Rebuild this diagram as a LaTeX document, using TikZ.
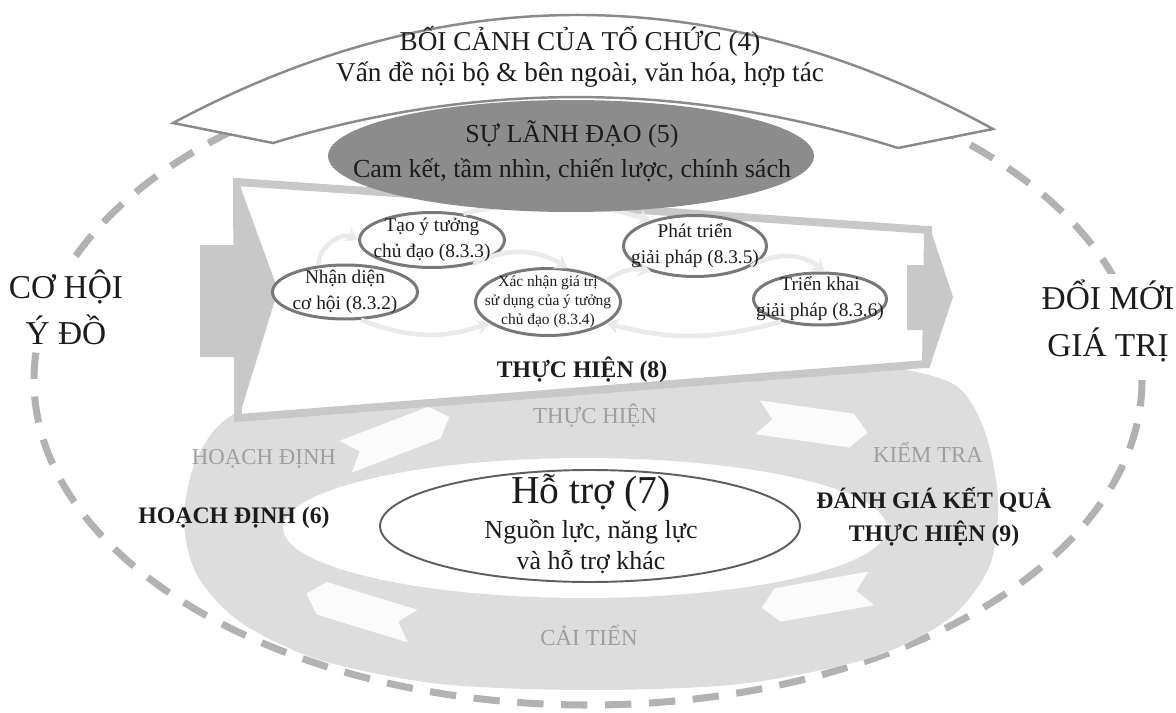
\documentclass[tikz,border=0pt]{standalone}
\usepackage{fontspec}
\setmainfont{Liberation Serif}
\usetikzlibrary{shapes.geometric,arrows.meta}
\definecolor{dashgray}{HTML}{B2B2B2}
\definecolor{ringgray}{HTML}{DDDDDD}
\definecolor{boxgray}{HTML}{C8C8C8}
\definecolor{edgegray}{HTML}{8A8A8A}
\definecolor{leadgray}{HTML}{8C8C8C}
\definecolor{supportgray}{HTML}{5E5E5E}
\definecolor{stagegray}{HTML}{787878}
\definecolor{swirlgray}{HTML}{EAEAEA}
\definecolor{labelgray}{HTML}{A29D9D}
\definecolor{ink}{HTML}{1C1C1C}
\begin{document}
\begin{tikzpicture}[x=0.02cm, y=-0.02cm,
    dashring/.style={draw=dashgray, line width=4pt, dash pattern=on 15pt off 10pt},
    ringband/.style={fill=ringgray, even odd rule},
    chevron/.style={fill=white, fill opacity=0.9},
    flowbox/.style={draw=boxgray, line width=4.5pt, fill=white, line join=miter},
    blockarrow/.style={fill=boxgray},
    banner/.style={draw=edgegray, line width=1.4pt, fill=white, line join=miter},
    leader/.style={ellipse, fill=leadgray, minimum width=9.72cm, minimum height=2.24cm},
    support/.style={ellipse, draw=supportgray, line width=1.1pt, fill=white,
        minimum width=8.4cm, minimum height=2.24cm},
    stage/.style={ellipse, draw=stagegray, line width=1.7pt, fill=white},
    swirl/.style={draw=swirlgray, line width=2.6pt, -{Stealth[length=7pt, width=9pt]}},
    caption/.style={align=center, inner sep=0pt, text=ink},
    phase/.style={text=labelgray, inner sep=0pt, font=\fontsize{13}{15}\selectfont},
    clause/.style={caption, font=\bfseries\fontsize{13.5}{19}\selectfont},
    outcome/.style={caption, fill=white, inner sep=3pt, font=\fontsize{19}{26}\selectfont}]
   \useasboundingbox (0,0) rectangle (1176,713);
   % outer dashed ellipse
   \draw[dashring] (588,380) ellipse [x radius=554, y radius=325];
   % PDCA band
   \fill[ringband] plot[smooth cycle] coordinates {(184,522) (194,465) (225,420) (300,385)
       (420,360) (590,348) (760,352) (880,365) (955,385) (985,432) (998,500) (990,565)
       (950,618) (870,658) (740,684) (590,690) (440,684) (320,660) (240,622) (197,575)}
       (585,528) ellipse [x radius=302, y radius=70];
   \foreach \cx/\cy/\ang in {397/437/21, 812/425/-8, 817/598/190, 360/610/163}
      \fill[chevron, shift={(\cx,\cy)}, rotate=\ang]
         (-55,-17) -- (40,-17) -- (56,0) -- (40,17) -- (-55,17) -- (-40,0) -- cycle;
   \node[phase] (plan) at (264,459) {HOẠCH ĐỊNH};
   \node[phase] (do) at (595,416) {THỰC HIỆN};
   \node[phase] (check) at (928,452) {KIỂM TRA};
   \node[phase] (act) at (589,635) {CẢI TIẾN};
   % operation box (8)
   \draw[flowbox] (237,182) -- (928,230) -- (926,364) -- (238,418) -- cycle;
   \fill[blockarrow] (200,245) -- (240,245) -- (240,186) -- (278,290) -- (240,414)
       -- (240,357) -- (200,357) -- cycle;
   \fill[blockarrow] (907,265) -- (930,265) -- (930,228) -- (953,297) -- (930,366)
       -- (930,330) -- (907,330) -- cycle;
   \node[stage, minimum width=2.9cm, minimum height=1.1cm] (tao) at (432,240) {};
   \node[stage, minimum width=2.9cm, minimum height=1.08cm] (nhan) at (345,292) {};
   \node[stage, minimum width=2.9cm, minimum height=1.34cm] (xac) at (548,302) {};
   \node[stage, minimum width=2.86cm, minimum height=1.22cm] (phat) at (695,246) {};
   \node[stage, minimum width=2.66cm, minimum height=1.04cm] (trien) at (820,299) {};
   \draw[swirl] (nhan.135) to[bend left=60] (tao.180);
   \draw[swirl] (tao.-30) to[bend left=30] (xac.60);
   \draw[swirl] (tao.40) to[bend left=15] (phat.150);
   \draw[swirl] (xac.20) to[bend left=25] (phat.-150);
   \draw[swirl] (phat.-20) to[bend left=35] (trien.80);
   \draw[swirl] (trien.-150) to[bend left=15] (xac.-20);
   \draw[swirl] (nhan.-60) to[bend right=20] (xac.-160);
   \node[caption, font=\fontsize{11}{14.8}\selectfont] (taotext) at (tao) {Tạo ý tưởng\\chủ đạo (8.3.3)};
   \node[caption, font=\fontsize{11}{14.8}\selectfont] (nhantext) at (nhan) {Nhận diện\\cơ hội (8.3.2)};
   \node[caption, font=\fontsize{8.8}{10.8}\selectfont] (xactext) at (xac) {Xác nhận giá trị\\sử dụng của ý tưởng\\chủ đạo (8.3.4)};
   \node[caption, font=\fontsize{11}{14.8}\selectfont] (phattext) at (phat) {Phát triển\\giải pháp (8.3.5)};
   \node[caption, font=\fontsize{11}{14.8}\selectfont] (trientext) at (trien) {Triển khai\\giải pháp (8.3.6)};
   \node[clause] (operation) at (582,370) {THỰC HIỆN (8)};
   % context banner (4) and leadership (5)
   \draw[banner] (173,123) .. controls (446,-23) and (720,-21) .. (993,129) -- (898,148)
       .. controls (689,82) and (481,80) .. (273,143) -- cycle;
   \node[caption, font=\fontsize{15.5}{17.6}\selectfont] (context) at (580,57)
       {BỐI CẢNH CỦA TỔ CHỨC (4)\\Vấn đề nội bộ \& bên ngoài, văn hóa, hợp tác};
   \node[leader] (lead) at (571,156) {};
   \node[caption, font=\fontsize{14.8}{20}\selectfont] (leadtext) at (572,151)
       {SỰ LÃNH ĐẠO (5)\\Cam kết, tầm nhìn, chiến lược, chính sách};
   % support (7)
   \node[support] (support) at (590,526) {};
   \node[caption, font=\fontsize{14.8}{18}\selectfont] (supporttext) at (591,524)
       {{\fontsize{22.5}{24}\selectfont Hỗ trợ (7)}\\[2pt]Nguồn lực, năng lực\\và hỗ trợ khác};
   \node[clause] (planning) at (234,518) {HOẠCH ĐỊNH (6)};
   \node[clause] (evaluation) at (934,517) {ĐÁNH GIÁ KẾT QUẢ\\THỰC HIỆN (9)};
   % opportunities and values
   \node[outcome] (cohoi) at (66,307) {CƠ HỘI\\Ý ĐỒ};
   \node[outcome, font=\fontsize{19}{27}\selectfont] (doimoi) at (1108,321) {ĐỔI MỚI\\GIÁ TRỊ};
\end{tikzpicture}
\end{document}
